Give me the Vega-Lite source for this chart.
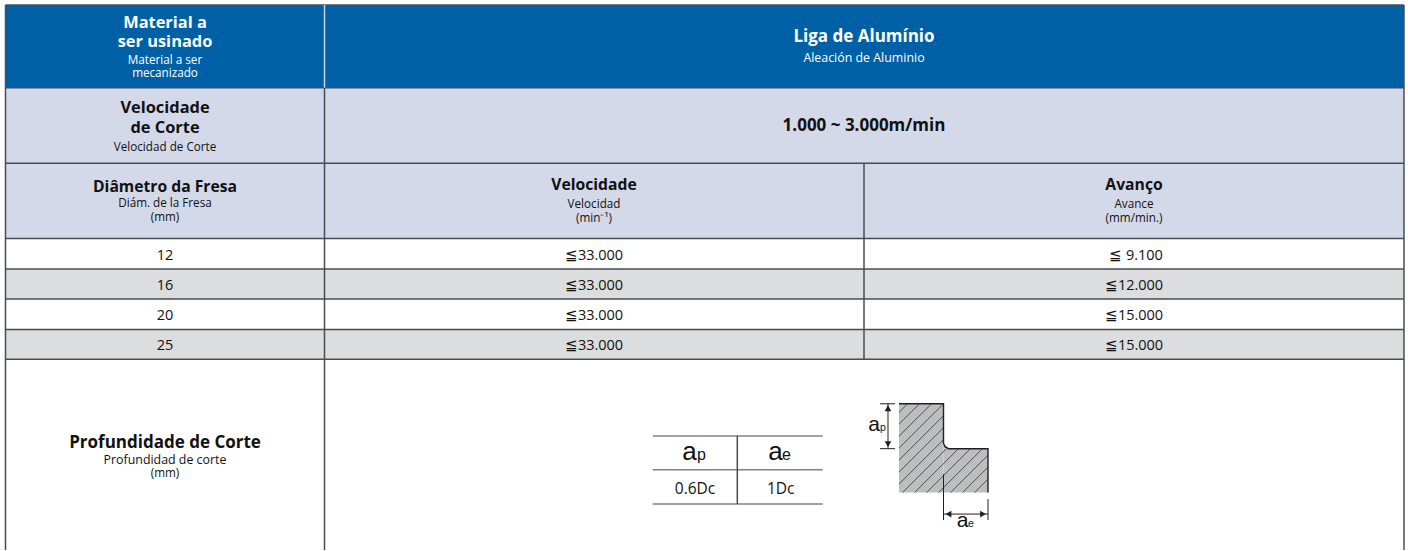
{
"$schema":"https://vega.github.io/schema/vega-lite/v6.json",
"width":1408,"height":551,
"autosize":{"type":"fit","contains":"padding"},
"padding":0,
"background":"white",
"config":{"view":{"stroke":null},"axis":{"domain":false,"grid":false}},
"datasets":{
"cells":[
{"left":5.5,"right":324.5,"top":5,"bottom":88,"tone":"header"},
{"left":324.5,"right":1404,"top":5,"bottom":88,"tone":"header"},
{"left":5.5,"right":324.5,"top":88,"bottom":163.5,"tone":"band"},
{"left":324.5,"right":1404,"top":88,"bottom":163.5,"tone":"band"},
{"left":5.5,"right":324.5,"top":163.5,"bottom":239,"tone":"band"},
{"left":324.5,"right":864,"top":163.5,"bottom":239,"tone":"band"},
{"left":864,"right":1404,"top":163.5,"bottom":239,"tone":"band"},
{"left":5.5,"right":1404,"top":269.5,"bottom":299.5,"tone":"stripe"},
{"left":5.5,"right":1404,"top":330,"bottom":360,"tone":"stripe"}
],
"grid":[
{"x1":5.5,"x2":1404,"y1":5,"y2":5,"tone":"frame"},
{"x1":5.5,"x2":1404,"y1":88,"y2":88,"tone":"frame"},
{"x1":5.5,"x2":1404,"y1":163.5,"y2":163.5,"tone":"frame"},
{"x1":5.5,"x2":1404,"y1":239,"y2":239,"tone":"frame"},
{"x1":5.5,"x2":1404,"y1":269.5,"y2":269.5,"tone":"frame"},
{"x1":5.5,"x2":1404,"y1":299.5,"y2":299.5,"tone":"frame"},
{"x1":5.5,"x2":1404,"y1":330,"y2":330,"tone":"frame"},
{"x1":5.5,"x2":1404,"y1":360,"y2":360,"tone":"frame"},
{"x1":5.5,"x2":5.5,"y1":5,"y2":551,"tone":"frame"},
{"x1":1404,"x2":1404,"y1":5,"y2":551,"tone":"frame"},
{"x1":324.5,"x2":324.5,"y1":5,"y2":88,"tone":"divider"},
{"x1":324.5,"x2":324.5,"y1":88,"y2":551,"tone":"frame"},
{"x1":864,"x2":864,"y1":163.5,"y2":360,"tone":"frame"},
{"x1":652.7,"x2":822.7,"y1":436.7,"y2":436.7,"tone":"minor"},
{"x1":652.7,"x2":822.7,"y1":470.7,"y2":470.7,"tone":"minor"},
{"x1":652.7,"x2":822.7,"y1":505,"y2":505,"tone":"minor"},
{"x1":737.3,"x2":737.3,"y1":436.7,"y2":505,"tone":"frame"}
],
"section":[
{"x1":899,"x2":943.5,"y1":404.5,"y2":493.5},
{"x1":943.5,"x2":988,"y1":449.5,"y2":493.5},
{"x1":943.5,"x2":946.5,"y1":446,"y2":449.5}
],
"outline":[
{"x":899,"y":404.5,"seq":1},
{"x":943.5,"y":404.5,"seq":2},
{"x":943.5,"y":444,"seq":3},
{"x":945,"y":447.5,"seq":4},
{"x":948.5,"y":449.5,"seq":5},
{"x":988,"y":449.5,"seq":6},
{"x":988,"y":493.5,"seq":7}
],
"hatch":[
{"x1":899,"y1":413,"x2":907.5,"y2":404.5},
{"x1":899,"y1":425,"x2":919.5,"y2":404.5},
{"x1":899,"y1":437,"x2":931.5,"y2":404.5},
{"x1":899,"y1":449,"x2":943.5,"y2":404.5},
{"x1":899,"y1":461,"x2":943.5,"y2":416.5},
{"x1":899,"y1":473,"x2":943.5,"y2":428.5},
{"x1":899,"y1":485,"x2":943.5,"y2":440.5},
{"x1":902.5,"y1":493.5,"x2":946.5,"y2":449.5},
{"x1":914.5,"y1":493.5,"x2":958.5,"y2":449.5},
{"x1":926.5,"y1":493.5,"x2":970.5,"y2":449.5},
{"x1":938.5,"y1":493.5,"x2":982.5,"y2":449.5},
{"x1":950.5,"y1":493.5,"x2":988,"y2":456},
{"x1":962.5,"y1":493.5,"x2":988,"y2":468},
{"x1":974.5,"y1":493.5,"x2":988,"y2":480}
],
"dims":[
{"x1":880,"x2":895,"y1":404.5,"y2":404.5},
{"x1":880,"x2":895,"y1":449.5,"y2":449.5},
{"x1":888,"x2":888,"y1":404.5,"y2":449.5},
{"x1":943.5,"x2":943.5,"y1":475,"y2":521},
{"x1":988,"x2":988,"y1":500,"y2":521},
{"x1":943.5,"x2":988,"y1":515,"y2":515}
],
"arrows":[
{"x":888,"y":409,"dir":"up"},
{"x":888,"y":445,"dir":"down"},
{"x":948.5,"y":515,"dir":"left"},
{"x":983,"y":515,"dir":"right"}
],
"strongWide":[
{"t":"Liga de Alumínio","x":864,"y":42,"tone":"inverse"},
{"t":"1.000 ~ 3.000m/min","x":864,"y":131,"tone":"ink"},
{"t":"Profundidade de Corte","x":165,"y":448.5,"tone":"ink"}
],
"strong":[
{"t":"Material a","x":165,"y":28,"tone":"inverse"},
{"t":"ser usinado","x":165,"y":47,"tone":"inverse"},
{"t":"Velocidade","x":165,"y":113.5,"tone":"ink"},
{"t":"de Corte","x":165,"y":133.5,"tone":"ink"}
],
"strongNarrow":[
{"t":"Diâmetro da Fresa","x":165,"y":192,"tone":"ink"},
{"t":"Velocidade","x":594,"y":190.5,"tone":"ink"},
{"t":"Avanço","x":1134,"y":190.5,"tone":"ink"}
],
"small":[
{"t":"Material a ser","x":165,"y":64,"tone":"inverse"},
{"t":"mecanizado","x":165,"y":77,"tone":"inverse"},
{"t":"Velocidad de Corte","x":165,"y":151,"tone":"ink"},
{"t":"Diám. de la Fresa","x":165,"y":207.5,"tone":"ink"},
{"t":"(mm)","x":165,"y":221.5,"tone":"ink"},
{"t":"Velocidad","x":594,"y":208,"tone":"ink"},
{"t":"(min⁻¹)","x":594,"y":222,"tone":"ink"},
{"t":"Avance","x":1134,"y":208,"tone":"ink"},
{"t":"(mm/min.)","x":1134,"y":222,"tone":"ink"},
{"t":"(mm)","x":165,"y":477.5,"tone":"ink"}
],
"smallWide":[
{"t":"Aleación de Aluminio","x":864,"y":62,"tone":"inverse"},
{"t":"Profundidad de corte","x":165,"y":465,"tone":"ink"}
],
"body":[
{"t":"12","x":165,"y":260.5,"tone":"ink"},
{"t":"16","x":165,"y":291,"tone":"ink"},
{"t":"20","x":165,"y":321,"tone":"ink"},
{"t":"25","x":165,"y":351,"tone":"ink"},
{"t":"≦33.000","x":594,"y":260.5,"tone":"ink"},
{"t":"≦33.000","x":594,"y":291,"tone":"ink"},
{"t":"≦33.000","x":594,"y":321,"tone":"ink"},
{"t":"≦33.000","x":594,"y":351,"tone":"ink"},
{"t":"≦ 9.100","x":1136,"y":260.5,"tone":"ink"},
{"t":"≦12.000","x":1134,"y":291,"tone":"ink"},
{"t":"≦15.000","x":1134,"y":321,"tone":"ink"},
{"t":"≦15.000","x":1134,"y":351,"tone":"ink"}
],
"minitext":[
{"t":"0.6Dc","x":695,"y":495,"tone":"ink"},
{"t":"1Dc","x":780.7,"y":495,"tone":"ink"}
],
"tableA":[
{"t":"a","x":689.5,"y":461,"tone":"ink"},
{"t":"a","x":775.5,"y":461,"tone":"ink"}
],
"tableSub":[
{"t":"p","x":697,"y":461,"tone":"ink"},
{"t":"e","x":782,"y":461,"tone":"ink"}
],
"figA":[
{"t":"a","x":874,"y":431.5,"tone":"ink"},
{"t":"a","x":962.5,"y":528,"tone":"ink"}
],
"figSub":[
{"t":"p","x":880,"y":431.5,"tone":"ink"},
{"t":"e","x":968,"y":528,"tone":"ink"}
]
},
"encoding":{},
"layer":[
{"data":{"name":"cells"},"mark":{"type":"rect"},
 "encoding":{"x":{"field":"left","type":"quantitative","scale":{"domain":[0,1408],"nice":false,"zero":false},"axis":null},"x2":{"field":"right"},
 "y":{"field":"top","type":"quantitative","scale":{"domain":[0,551],"nice":false,"zero":false,"reverse":true},"axis":null},"y2":{"field":"bottom"},
 "color":{"field":"tone","type":"nominal","legend":null,"scale":{"domain":["header","band","stripe","frame","divider","minor","inverse","ink"],"range":["#0060a6","#d4d9ea","#dcddde","#4a4c50","#c9d3e3","#808285","#ffffff","#111111"]}}}},
{"data":{"name":"grid"},"mark":{"type":"rule","strokeWidth":1.5},
 "encoding":{"x":{"field":"x1","type":"quantitative"},"x2":{"field":"x2"},"y":{"field":"y1","type":"quantitative"},"y2":{"field":"y2"},"color":{"field":"tone","type":"nominal"}}},
{"data":{"name":"section"},"mark":{"type":"rect","color":"#bcbec0"},
 "encoding":{"x":{"field":"x1","type":"quantitative"},"x2":{"field":"x2"},"y":{"field":"y1","type":"quantitative"},"y2":{"field":"y2"}}},
{"data":{"name":"hatch"},"mark":{"type":"rule","strokeWidth":0.8,"color":"#333333"},
 "encoding":{"x":{"field":"x1","type":"quantitative"},"x2":{"field":"x2"},"y":{"field":"y1","type":"quantitative"},"y2":{"field":"y2"}}},
{"data":{"name":"outline"},"mark":{"type":"line","strokeWidth":1.4,"color":"#231f20"},
 "encoding":{"x":{"field":"x","type":"quantitative"},"y":{"field":"y","type":"quantitative"},"order":{"field":"seq"}}},
{"data":{"name":"dims"},"mark":{"type":"rule","strokeWidth":1,"color":"#231f20"},
 "encoding":{"x":{"field":"x1","type":"quantitative"},"x2":{"field":"x2"},"y":{"field":"y1","type":"quantitative"},"y2":{"field":"y2"}}},
{"data":{"name":"arrows"},"mark":{"type":"point","filled":true,"opacity":1,"size":45,"color":"#231f20"},
 "encoding":{"x":{"field":"x","type":"quantitative"},"y":{"field":"y","type":"quantitative"},"shape":{"field":"dir","type":"nominal","legend":null,"scale":{"domain":["up","down","left","right"],"range":["triangle-up","triangle-down","triangle-left","triangle-right"]}}}},
{"data":{"name":"strongWide"},"mark":{"type":"text","font":"Open Sans","fontWeight":"bold","fontSize":17,"align":"center","baseline":"alphabetic"},
 "encoding":{"x":{"field":"x","type":"quantitative"},"y":{"field":"y","type":"quantitative"},"text":{"field":"t"},"color":{"field":"tone","type":"nominal"}}},
{"data":{"name":"strong"},"mark":{"type":"text","font":"Open Sans","fontWeight":"bold","fontSize":16.4,"align":"center","baseline":"alphabetic"},
 "encoding":{"x":{"field":"x","type":"quantitative"},"y":{"field":"y","type":"quantitative"},"text":{"field":"t"},"color":{"field":"tone","type":"nominal"}}},
{"data":{"name":"strongNarrow"},"mark":{"type":"text","font":"Open Sans","fontWeight":"bold","fontSize":15.7,"align":"center","baseline":"alphabetic"},
 "encoding":{"x":{"field":"x","type":"quantitative"},"y":{"field":"y","type":"quantitative"},"text":{"field":"t"},"color":{"field":"tone","type":"nominal"}}},
{"data":{"name":"small"},"mark":{"type":"text","font":"Open Sans","fontSize":11.7,"align":"center","baseline":"alphabetic"},
 "encoding":{"x":{"field":"x","type":"quantitative"},"y":{"field":"y","type":"quantitative"},"text":{"field":"t"},"color":{"field":"tone","type":"nominal"}}},
{"data":{"name":"smallWide"},"mark":{"type":"text","font":"Open Sans","fontSize":12.4,"align":"center","baseline":"alphabetic"},
 "encoding":{"x":{"field":"x","type":"quantitative"},"y":{"field":"y","type":"quantitative"},"text":{"field":"t"},"color":{"field":"tone","type":"nominal"}}},
{"data":{"name":"body"},"mark":{"type":"text","font":"Open Sans","fontSize":14.5,"align":"center","baseline":"alphabetic"},
 "encoding":{"x":{"field":"x","type":"quantitative"},"y":{"field":"y","type":"quantitative"},"text":{"field":"t"},"color":{"field":"tone","type":"nominal"}}},
{"data":{"name":"minitext"},"mark":{"type":"text","font":"Open Sans","fontSize":15.5,"align":"center","baseline":"alphabetic"},
 "encoding":{"x":{"field":"x","type":"quantitative"},"y":{"field":"y","type":"quantitative"},"text":{"field":"t"},"color":{"field":"tone","type":"nominal"}}},
{"data":{"name":"tableA"},"mark":{"type":"text","font":"Liberation Sans","fontSize":26,"align":"center","baseline":"alphabetic"},
 "encoding":{"x":{"field":"x","type":"quantitative"},"y":{"field":"y","type":"quantitative"},"text":{"field":"t"},"color":{"field":"tone","type":"nominal"}}},
{"data":{"name":"tableSub"},"mark":{"type":"text","font":"Liberation Sans","fontSize":16,"align":"left","baseline":"alphabetic"},
 "encoding":{"x":{"field":"x","type":"quantitative"},"y":{"field":"y","type":"quantitative"},"text":{"field":"t"},"color":{"field":"tone","type":"nominal"}}},
{"data":{"name":"figA"},"mark":{"type":"text","font":"Liberation Sans","fontSize":21,"align":"center","baseline":"alphabetic"},
 "encoding":{"x":{"field":"x","type":"quantitative"},"y":{"field":"y","type":"quantitative"},"text":{"field":"t"},"color":{"field":"tone","type":"nominal"}}},
{"data":{"name":"figSub"},"mark":{"type":"text","font":"Liberation Sans","fontSize":10.5,"align":"left","baseline":"alphabetic"},
 "encoding":{"x":{"field":"x","type":"quantitative"},"y":{"field":"y","type":"quantitative"},"text":{"field":"t"},"color":{"field":"tone","type":"nominal"}}}
]
}
